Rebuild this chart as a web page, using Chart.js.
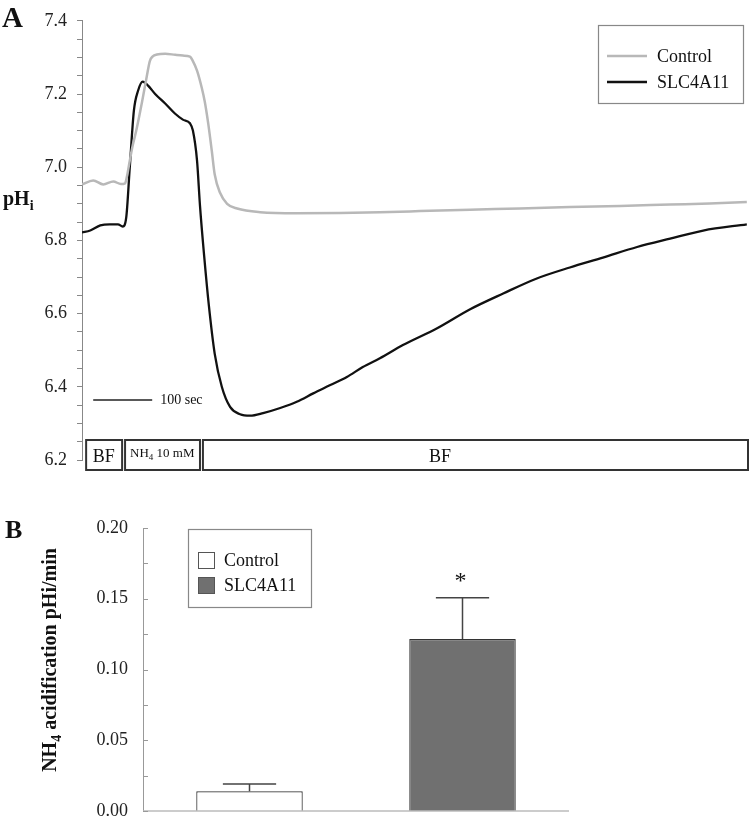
<!DOCTYPE html>
<html><head><meta charset="utf-8">
<script src="https://cdn.jsdelivr.net/npm/chart.js@4.4.1/dist/chart.umd.min.js"></script>
<style>
html,body{margin:0;padding:0;background:#fff;width:750px;height:818px;overflow:hidden}
#wa{position:absolute;left:0;top:0;width:750px;height:490px}
#wb{position:absolute;left:0;top:490px;width:750px;height:360px}
canvas{display:block}
</style></head><body>
<div id="wa"><canvas id="ca" width="750" height="490"></canvas></div>
<div id="wb"><canvas id="cb" width="750" height="360"></canvas></div>
<script>
// ---------- Panel A data ----------
const seriesNames = ['Control', 'SLC4A11'];
const controlTime = [0,19,36,53,66,73,76,81,86,92,102,110,115,120,127,141,158,171,183,188,195,203,208,214,220,225,234,246,263,302,364,437,505,573,658,742,827,912,997,1064,1127];
const controlPH   = [6.953,6.964,6.953,6.961,6.954,6.956,6.973,7.018,7.06,7.10,7.18,7.25,7.29,7.303,7.308,7.31,7.307,7.305,7.302,7.29,7.264,7.217,7.18,7.119,7.045,6.98,6.93,6.90,6.887,6.877,6.874,6.875,6.877,6.880,6.884,6.887,6.891,6.894,6.898,6.901,6.905];
const slcTime = [0,14,31,47,61,69,75,81,88,95,103,112,124,141,158,171,183,188,195,200,207,215,225,237,251,268,285,307,336,364,392,420,449,476,505,544,602,658,714,771,827,883,941,997,1053,1127];
const slcPH   = [6.822,6.827,6.841,6.844,6.844,6.838,6.863,7.0,7.155,7.209,7.234,7.223,7.2,7.174,7.146,7.13,7.12,7.1,7.018,6.895,6.759,6.623,6.49,6.40,6.345,6.325,6.321,6.328,6.342,6.359,6.382,6.404,6.427,6.454,6.478,6.514,6.56,6.612,6.655,6.696,6.726,6.753,6.782,6.805,6.827,6.844];
const yMajorA = [6.2, 6.4, 6.6, 6.8, 7.0, 7.2, 7.4];
const protocolLabels = ['BF', 'NH_4 10 mM', 'BF'];
const protocolStart  = [7, 73, 205];
const protocolEnd    = [68, 200, 1129];
const protocolLabelT = [37, 136, 607];
const scaleBarStart = 19, scaleBarLen = 100, scaleBarPH = 6.364, scaleBarText = '100 sec';
const yTitleA = 'pH_i';

// ---------- Panel B data ----------
const categoriesB = ['Control', 'SLC4A11'];
const meansB = [0.0139, 0.1215];
const semB   = [0.0052, 0.0292];
const sigB   = ['', '*'];
const yMajorB = [0, 0.05, 0.10, 0.15, 0.20];
const yTitleB = 'NH_4 acidification pHi/min';

const FONT = '"Liberation Serif", "Times New Roman", serif';

function parts(str){
  const out=[]; const re=/_(.)/g; let last=0,m;
  while((m=re.exec(str))){ if(m.index>last) out.push({t:str.slice(last,m.index)}); out.push({t:m[1],sub:true}); last=re.lastIndex; }
  if(last<str.length) out.push({t:str.slice(last)});
  return out;
}
function drawRich(ctx, str, x, y, size, weight, align){
  const ps=parts(str); let w=0;
  const sz=p=>p.sub?Math.round(size*0.72):size;
  for(const p of ps){ ctx.font=weight+' '+sz(p)+'px '+FONT; w+=ctx.measureText(p.t).width; }
  let cx = align==='center'? x-w/2 : (align==='right'? x-w : x);
  ctx.textAlign='left'; ctx.textBaseline='alphabetic';
  for(const p of ps){ ctx.font=weight+' '+sz(p)+'px '+FONT; ctx.fillText(p.t, cx, y+(p.sub?size*0.25:0)); cx+=ctx.measureText(p.t).width; }
}
const isMajor=(v,list)=>list.some(m=>Math.abs(m-v)<1e-6);

// ---------- Chart A ----------
const panelAPlugin = {
  id:'panelA',
  afterDraw(chart){
    const ctx=chart.ctx, xs=chart.scales.x, ys=chart.scales.y;
    ctx.save();
    ctx.fillStyle='#111';
    ctx.font='bold 29px '+FONT; ctx.textAlign='left'; ctx.textBaseline='alphabetic';
    ctx.fillText('A', 2, 27);
    drawRich(ctx, yTitleA, 3, 205, 20, 'bold', 'left');
    // scale bar
    const sy=ys.getPixelForValue(scaleBarPH);
    ctx.strokeStyle='#222'; ctx.lineWidth=1.5;
    ctx.beginPath(); ctx.moveTo(xs.getPixelForValue(scaleBarStart), sy); ctx.lineTo(xs.getPixelForValue(scaleBarStart+scaleBarLen), sy); ctx.stroke();
    ctx.font='14px '+FONT; ctx.textBaseline='middle'; ctx.textAlign='left';
    ctx.fillText(scaleBarText, xs.getPixelForValue(scaleBarStart+scaleBarLen)+8, sy);
    // protocol boxes
    const base=ys.getPixelForValue(yMajorA[0]);
    const top=base-20, bot=base+10;
    ctx.strokeStyle='#333'; ctx.lineWidth=2;
    protocolLabels.forEach((lab,i)=>{
      const x0=xs.getPixelForValue(protocolStart[i]), x1=xs.getPixelForValue(protocolEnd[i]);
      ctx.strokeRect(x0, top, x1-x0, bot-top);
      ctx.fillStyle='#111';
      const small = lab.indexOf('_')>=0;
      drawRich(ctx, lab, xs.getPixelForValue(protocolLabelT[i]), small? top+17 : top+22, small?13:18, 'normal', 'center');
    });
    // legend
    ctx.strokeStyle='#888'; ctx.lineWidth=1.2;
    ctx.strokeRect(598.5, 25.5, 145, 78);
    chart.data.datasets.forEach((ds,i)=>{
      const y=56+i*26;
      ctx.strokeStyle=ds.borderColor; ctx.lineWidth=2.5;
      ctx.beginPath(); ctx.moveTo(607,y); ctx.lineTo(647,y); ctx.stroke();
      ctx.fillStyle='#111'; ctx.font='18px '+FONT; ctx.textAlign='left'; ctx.textBaseline='middle';
      ctx.fillText(ds.label, 657, y+1);
    });
    ctx.restore();
  }
};

new Chart(document.getElementById('ca'), {
  type:'line',
  data:{ datasets:[
    {label:seriesNames[0], data:controlTime.map((t,i)=>({x:t,y:controlPH[i]})), borderColor:'#b8b8b8', borderWidth:2.5, pointRadius:0, cubicInterpolationMode:'monotone', fill:false},
    {label:seriesNames[1], data:slcTime.map((t,i)=>({x:t,y:slcPH[i]})), borderColor:'#111111', borderWidth:2.3, pointRadius:0, cubicInterpolationMode:'monotone', fill:false}
  ]},
  options:{
    responsive:false, animation:false, devicePixelRatio:1,
    layout:{padding:{left:0, right:2, top:20, bottom:30}},
    plugins:{legend:{display:false}, tooltip:{enabled:false}},
    scales:{
      x:{type:'linear', min:0, max:1129, display:false},
      y:{min:6.2, max:7.4,
         afterFit(s){ s.width=82; },
         ticks:{stepSize:0.05, autoSkip:false, padding:10, color:'#222', font:{family:FONT, size:18},
                callback:(v)=> isMajor(v,yMajorA) ? (+v).toFixed(1) : ''},
         grid:{drawOnChartArea:false, drawTicks:true, tickLength:5, color:'#888'},
         border:{display:true, color:'#888', width:1}}
    }
  },
  plugins:[panelAPlugin]
});

// ---------- Chart B ----------
const panelBPlugin = {
  id:'panelB',
  afterDraw(chart){
    const ctx=chart.ctx, ys=chart.scales.y, ca=chart.chartArea;
    ctx.save();
    ctx.fillStyle='#111';
    ctx.font='bold 26px '+FONT; ctx.textAlign='left'; ctx.textBaseline='alphabetic';
    ctx.fillText('B', 5, 48);
    // y title rotated
    ctx.save(); ctx.translate(56, 170); ctx.rotate(-Math.PI/2);
    drawRich(ctx, yTitleB, 0, 0, 20, 'bold', 'center');
    ctx.restore();
    // x baseline
    const y0=ys.getPixelForValue(0);
    ctx.strokeStyle='#bbb'; ctx.lineWidth=1.5;
    ctx.beginPath(); ctx.moveTo(ca.left, y0); ctx.lineTo(ca.right, y0); ctx.stroke();
    // inward ticks
    ctx.strokeStyle='#999'; ctx.lineWidth=1;
    ys.ticks.forEach(t=>{ const y=Math.round(ys.getPixelForValue(t.value))+0.5; ctx.beginPath(); ctx.moveTo(ys.right, y); ctx.lineTo(ys.right+5, y); ctx.stroke(); });
    // error bars & significance
    const meta=chart.getDatasetMeta(0);
    meta.data.forEach((el,i)=>{
      const yt=ys.getPixelForValue(meansB[i]+semB[i]);
      const half=el.width/4;
      ctx.strokeStyle='#444'; ctx.lineWidth=1.5;
      ctx.beginPath(); ctx.moveTo(el.x, el.y); ctx.lineTo(el.x, yt); ctx.moveTo(el.x-half, yt); ctx.lineTo(el.x+half, yt); ctx.stroke();
      if(sigB[i]){ ctx.fillStyle='#111'; ctx.font='24px '+FONT; ctx.textAlign='center'; ctx.textBaseline='alphabetic'; ctx.fillText(sigB[i], el.x-2, yt-10); }
    });
    // legend
    ctx.strokeStyle='#888'; ctx.lineWidth=1.2;
    ctx.strokeRect(188.5, 39.5, 123, 78);
    const ds=chart.data.datasets[0];
    categoriesB.forEach((c,i)=>{
      const y=62+i*25;
      ctx.fillStyle=ds.backgroundColor[i]; ctx.fillRect(198,y,17,17);
      ctx.strokeStyle='#555'; ctx.lineWidth=1; ctx.strokeRect(198.5,y+0.5,16,16);
      ctx.fillStyle='#111'; ctx.font='18px '+FONT; ctx.textAlign='left'; ctx.textBaseline='middle';
      ctx.fillText(c, 224, y+9);
    });
    ctx.restore();
  }
};

new Chart(document.getElementById('cb'), {
  type:'bar',
  data:{ labels:categoriesB, datasets:[{label:'rate', data:meansB, backgroundColor:['#ffffff','#707070'], borderColor:'#333333', borderWidth:1.2, barPercentage:0.5, categoryPercentage:1}]},
  options:{
    responsive:false, animation:false, devicePixelRatio:1,
    layout:{padding:{left:0, right:181, top:38, bottom:39}},
    plugins:{legend:{display:false}, tooltip:{enabled:false}},
    scales:{
      x:{display:false},
      y:{min:0, max:0.2, afterFit(s){ s.width=143; },
         ticks:{stepSize:0.025, autoSkip:false, padding:15, color:'#222', font:{family:FONT, size:18},
                callback:(v)=> isMajor(v,yMajorB) ? (+v).toFixed(2) : ''},
         grid:{display:false, drawTicks:false},
         border:{display:true, color:'#999', width:1}}
    }
  },
  plugins:[panelBPlugin]
});
</script>
</body></html>
